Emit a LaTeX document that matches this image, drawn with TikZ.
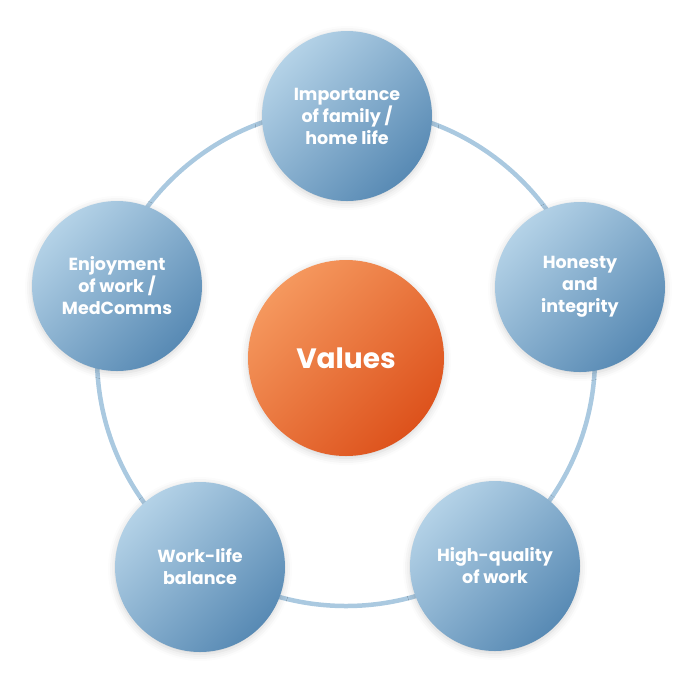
\documentclass[tikz,border=0pt]{standalone}
\usepackage{fontspec}
\setmainfont{Poppins}
\usepackage{tikz}
\usetikzlibrary{shadows.blur}
\definecolor{ringblue}{RGB}{170,201,224}
\definecolor{valblue}{RGB}{180,210,231}
\definecolor{valdeep}{RGB}{88,138,180}
\definecolor{coreorg}{RGB}{245,152,94}
\definecolor{coredeep}{RGB}{221,82,28}

\begin{document}
\begin{tikzpicture}[x=1pt, y=-1pt,
  valnode/.style={circle, minimum size=170pt, inner sep=0pt,
    top color=valblue, bottom color=valdeep, shading angle=45,
    text=white, font=\fontsize{17.5}{22}\selectfont\bfseries, align=center,
    blur shadow={shadow xshift=0pt, shadow yshift=-2pt,
      shadow blur radius=7pt, shadow opacity=18}},
  corenode/.style={circle, minimum size=196pt, inner sep=0pt,
    top color=coreorg, bottom color=coredeep, shading angle=45,
    text=white, font=\fontsize{28}{32}\selectfont\bfseries,
    blur shadow={shadow xshift=0pt, shadow yshift=-2pt,
      shadow blur radius=7pt, shadow opacity=18}}]

\useasboundingbox (0,0) rectangle (696,681);

%% ring behind the values
\coordinate (ctr) at (346,357);
\draw[ringblue, line width=4.5pt] (ctr) circle (249);

%% centre
\node[corenode] (core) at (346,358) {Values};

%% the five values, clockwise from the top
\node[valnode] (fam)  at (347,116) {Importance\\of family /\\home life};
\node[valnode] (hon)  at (580,287) {Honesty\\and\\integrity};
\node[valnode] (qual) at (495,566) {High-quality\\of work};
\node[valnode] (bal)  at (200,567) {Work-life\\balance};
\node[valnode] (enj)  at (117,286) {Enjoyment\\of work /\\MedComms};
\end{tikzpicture}
\end{document}
